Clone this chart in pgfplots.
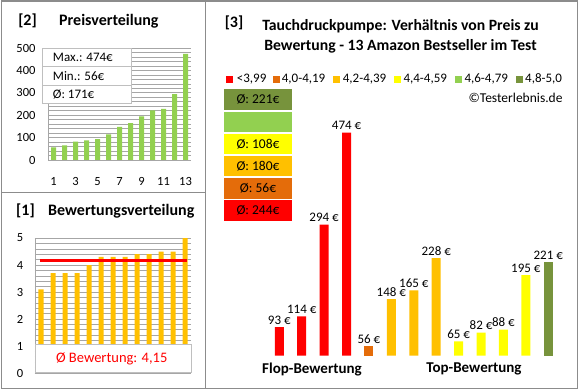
\documentclass[border=0pt]{standalone}
\usepackage{pgfplots}
\pgfplotsset{compat=1.18}
\usepackage{fontspec}
\setmainfont{Carlito}
\definecolor{cRed}{HTML}{FF0000}
\definecolor{cOrange}{HTML}{E46C0A}
\definecolor{cAmber}{HTML}{FFC000}
\definecolor{cYellow}{HTML}{FFFF00}
\definecolor{cLGreen}{HTML}{92D050}
\definecolor{cDGreen}{HTML}{77933C}
\definecolor{cFrame}{HTML}{8C8C8C}
\definecolor{cGrid}{HTML}{A6A6A6}
\newcommand{\fs}[1]{\fontsize{#1}{#1}\selectfont}
\begin{document}
\begin{tikzpicture}[x=1pt,y=1pt]
\useasboundingbox (0,0) rectangle (580,390);
\fill[white] (0,0) rectangle (580,390);

% ---------- Panel [2] Preisverteilung ----------
\begin{axis}[
  at={(48pt,230pt)}, anchor=south west, width=143pt, height=112pt, scale only axis,
  xmin=0.5, xmax=13.5, ymin=0, ymax=500,
  ytick={0,100,...,500}, minor y tick num=4,
  xtick={1,3,...,13},
  ymajorgrids, yminorgrids,
  major grid style={cGrid, line width=0.6pt},
  minor grid style={cGrid, line width=0.6pt},
  axis x line*=bottom, axis y line*=left,
  axis line style={cGrid, line width=0.8pt},
  major tick length=0pt, minor tick length=0pt,
  /pgf/number format/assume math mode=true,
  tick label style={font=\fs{12.5}},
  xticklabel style={yshift=-14pt},
  yticklabel style={xshift=-9pt},
]
\addplot[ybar, bar width=5pt, fill=cLGreen, draw=none] coordinates {
(1,56) (2,65) (3,82) (4,88) (5,93) (6,114) (7,148) (8,165) (9,195) (10,221) (11,228) (12,294) (13,474)};
\end{axis}
\draw[gray!50, fill=white, line width=0.7pt] (42,287) rectangle (131,342);
\draw[gray!50, line width=0.7pt] (42,323.3) -- (131,323.3);
\draw[gray!50, line width=0.7pt] (42,305) -- (131,305);
\node[anchor=west, inner sep=0, font=\fs{13}] at (52.7,332.5) {Max.: 474€};
\node[anchor=west, inner sep=0, font=\fs{13}] at (52.7,314) {Min.: 56€};
\node[anchor=west, inner sep=0, font=\fs{13}] at (52.7,296) {Ø: 171€};
\node[font=\bfseries\fs{16}] at (27.5,369) {[2]};
\node[anchor=west, inner sep=0, font=\bfseries\fs{16}] at (59,369) {Preisverteilung};

% ---------- Panel [1] Bewertungsverteilung ----------
\begin{axis}[
  at={(35pt,17pt)}, anchor=south west, width=156pt, height=135pt, scale only axis,
  xmin=0.5, xmax=13.5, ymin=0, ymax=5,
  ytick={0,1,...,5}, minor y tick num=4,
  xtick=\empty,
  ymajorgrids, yminorgrids,
  major grid style={cGrid, line width=0.6pt},
  minor grid style={cGrid, line width=0.6pt},
  axis x line*=bottom, axis y line*=left,
  axis line style={cGrid, line width=0.8pt},
  major tick length=0pt, minor tick length=0pt,
  /pgf/number format/assume math mode=true,
  tick label style={font=\fs{12.5}},
  yticklabel style={xshift=-8.3pt},
]
\addplot[ybar, bar width=5pt, fill=cAmber, draw=none] coordinates {
(1,3.1) (2,3.7) (3,3.7) (4,3.7) (5,4.0) (6,4.3) (7,4.3) (8,4.3) (9,4.4) (10,4.4) (11,4.5) (12,4.5) (13,5.0)};
\addplot[cRed, line width=3pt, mark=none] coordinates {(0.9,4.15) (13.15,4.15)};
\end{axis}
\draw[gray!50, fill=white, line width=0.7pt] (35,17.3) rectangle (191,45.7);
\node[text=cRed, font=\fs{14.5}] at (111.7,31) {Ø Bewertung: 4,15};
\node[font=\bfseries\fs{16}] at (25.5,179) {[1]};
\node[anchor=west, inner sep=0, font=\bfseries\fs{16}] at (48,179) {Bewertungsverteilung};

% ---------- Panel [3] ----------
\begin{axis}[
  at={(268.1pt,34.3pt)}, anchor=south west, width=291.4pt, height=241.4pt, scale only axis,
  xmin=0.5, xmax=13.5, ymin=37, ymax=510,
  hide axis,
  ybar, bar width=9pt, bar shift=0pt,
  /pgf/number format/assume math mode=true,
  nodes near coords={\pgfmathprintnumber{\pgfplotspointmeta}~€},
  every node near coord/.append style={font=\fs{13}, anchor=south, inner sep=2.5pt, text=black},
]
\addplot[fill=cRed, draw=none] coordinates {(1,93) (2,114) (3,294) (4,474)};
\addplot[fill=cOrange, draw=none] coordinates {(5,56)};
\addplot[fill=cAmber, draw=none] coordinates {(6,148) (7,165) (8,228)};
\addplot[fill=cYellow, draw=none] coordinates {(9,65) (10,82) (11,88) (12,195)};
\addplot[fill=cDGreen, draw=none] coordinates {(13,221)};
\end{axis}
\node[font=\bfseries\fs{15}] at (312,20.7) {Flop-Bewertung};
\node[font=\bfseries\fs{15}] at (474,20.7) {Top-Bewertung};

% average boxes
\fill[cDGreen] (224,300.5) rectangle (292,280.2);
\node[font=\fs{13.5}] at (258,290.3) {Ø: 221€};
\fill[cLGreen] (224,278.3) rectangle (292,258);
\fill[cYellow] (224,256.1) rectangle (292,235.8);
\node[font=\fs{13.5}] at (258,246) {Ø: 108€};
\fill[cAmber] (224,233.9) rectangle (292,213.6);
\node[font=\fs{13.5}] at (258,223.8) {Ø: 180€};
\fill[cOrange] (224,211.7) rectangle (292,191.4);
\node[font=\fs{13.5}] at (258,201.6) {Ø: 56€};
\fill[cRed] (224,189.5) rectangle (292,169.2);
\node[font=\fs{13.5}] at (258,179.4) {Ø: 244€};

% legend
\foreach \c/\xs/\xt/\t in {cRed/226/236.7/{<3,99}, cOrange/272.7/281.7/{4,0-4,19}, cAmber/333.3/342.7/{4,2-4,39}, cYellow/394/403.3/{4,4-4,59}, cLGreen/455/464.3/{4,6-4,79}, cDGreen/516/525/{4,8-5,0}}{
  \fill[\c] (\xs,307.3) rectangle ++(7,7);
  \node[anchor=west, inner sep=0, font=\fs{13}] at (\xt,311) {\t};
}
\node[anchor=east, inner sep=0, font=\fs{13.5}] at (562.7,292) {©Testerlebnis.de};

% titles
\node[font=\bfseries\fs{16}] at (234,367) {[3]};
\node[font=\bfseries\fs{15.7}] at (400.5,364) {Tauchdruckpumpe: Verhältnis von Preis zu};
\node[font=\bfseries\fs{15.7}] at (400.5,344) {Bewertung - 13 Amazon Bestseller im Test};

% frames
\draw[cFrame, line width=1.3pt] (1.5,1.7) rectangle (577.5,389);
\draw[cFrame, line width=1.3pt] (205.7,1.7) -- (205.7,389);
\draw[cFrame, line width=1.3pt] (1.5,197.7) -- (205.7,197.7);
\end{tikzpicture}
\end{document}
